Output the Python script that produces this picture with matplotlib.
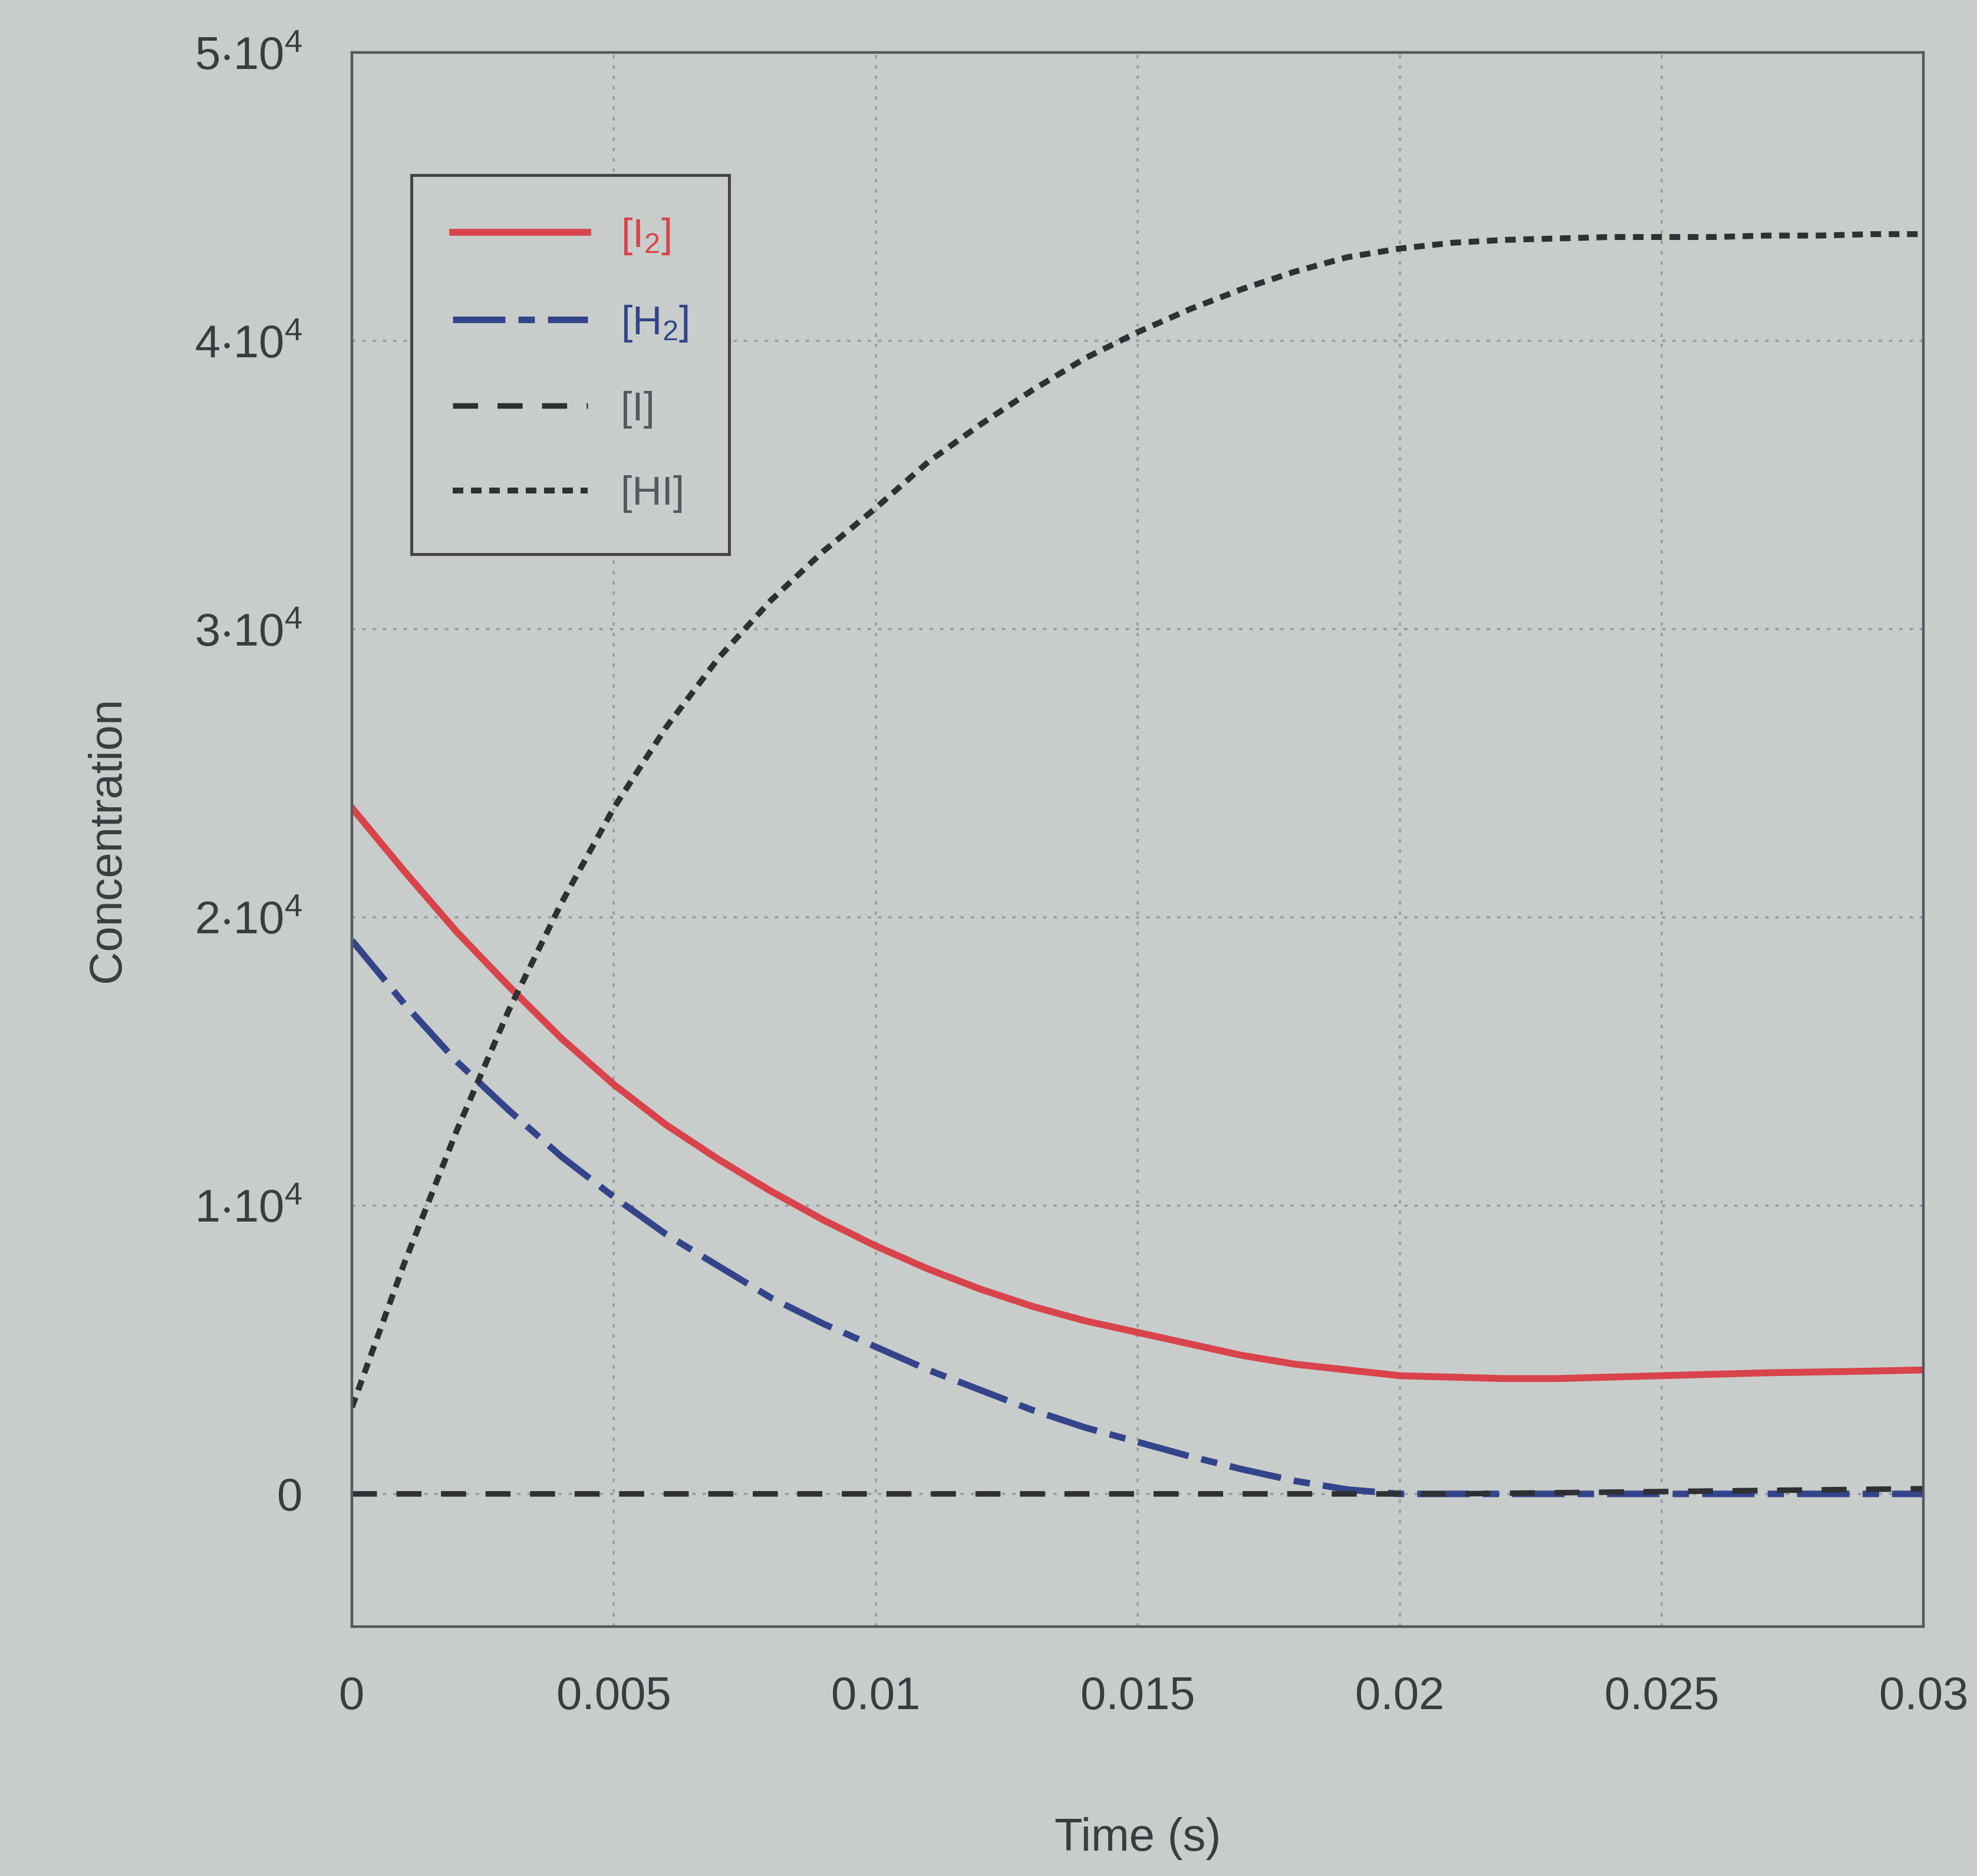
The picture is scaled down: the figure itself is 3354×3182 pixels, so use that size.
import numpy as np
import matplotlib.pyplot as plt
from matplotlib.ticker import FuncFormatter

plt.rcParams['font.family'] = ['Liberation Sans', 'DejaVu Sans']
plt.rcParams['mathtext.default'] = 'regular'

# time (s)
t = [0, 0.001, 0.002, 0.003, 0.004, 0.005, 0.006, 0.007, 0.008, 0.009,
     0.010, 0.011, 0.012, 0.013, 0.014, 0.015, 0.016, 0.017, 0.018, 0.019,
     0.020, 0.021, 0.022, 0.023, 0.024, 0.025, 0.026, 0.027, 0.028, 0.029, 0.030]

# concentrations in units of 1e4
i2 = [2.38, 2.16, 1.95, 1.76, 1.58, 1.42, 1.28, 1.16, 1.05, 0.95,
      0.86, 0.78, 0.71, 0.65, 0.60, 0.56, 0.52, 0.48, 0.45, 0.43,
      0.41, 0.405, 0.40, 0.40, 0.405, 0.41, 0.415, 0.42, 0.423, 0.426, 0.43]
h2 = [1.92, 1.70, 1.50, 1.33, 1.17, 1.03, 0.90, 0.79, 0.68, 0.59,
      0.51, 0.43, 0.36, 0.29, 0.23, 0.18, 0.13, 0.085, 0.045, 0.015,
      0.0, 0.0, 0.0, 0.0, 0.0, 0.0, 0.0, 0.0, 0.0, 0.0, 0.0]
i_at = [0.0, 0.0, 0.0, 0.0, 0.0, 0.0, 0.0, 0.0, 0.0, 0.0,
        0.0, 0.0, 0.0, 0.0, 0.0, 0.0, 0.0, 0.0, 0.0, 0.0,
        0.0, 0.0, 0.002, 0.004, 0.006, 0.008, 0.010, 0.012, 0.014, 0.016, 0.018]
hi = [0.30, 0.80, 1.26, 1.68, 2.05, 2.38, 2.66, 2.90, 3.10, 3.27,
      3.42, 3.58, 3.71, 3.83, 3.94, 4.03, 4.11, 4.18, 4.24, 4.29,
      4.32, 4.34, 4.35, 4.355, 4.36, 4.36, 4.36, 4.365, 4.365, 4.37, 4.37]

labels = ['[I$_2$]', '[H$_2$]', '[I]', '[HI]']
colors = ['#d9434b', '#34448a', '#2e3033', '#2e3033']

bg = '#c8cdcc'
fig = plt.figure(figsize=(16.77, 15.91), dpi=200, facecolor=bg)
ax = fig.add_axes([0.178, 0.133, 0.795, 0.839], facecolor=bg)

s = 1e4
ax.plot(t, np.array(i2) * s, color=colors[0], lw=4.2, label=labels[0])
ax.plot(t, np.array(h2) * s, color=colors[1], lw=4.0, dashes=(8, 2, 2.5, 2), label=labels[1])
ax.plot(t, np.array(i_at) * s, color=colors[2], lw=3.4, dashes=(4.5, 3.5), label=labels[2])
ax.plot(t, np.array(hi) * s, color=colors[3], lw=3.6, dashes=(1.8, 1.3), label=labels[3])

ax.set_xlim(0, 0.03)
ax.set_ylim(-4600, 50000)
ax.set_xticks([0, 0.005, 0.01, 0.015, 0.02, 0.025, 0.03])
ax.set_xticklabels(['0', '0.005', '0.01', '0.015', '0.02', '0.025', '0.03'])
ax.set_yticks([0, 1e4, 2e4, 3e4, 4e4, 5e4])
ax.yaxis.set_major_formatter(FuncFormatter(
    lambda v, p: '0' if v == 0 else '%d$\\cdot$10$^4$' % round(v / 1e4)))

ax.grid(True, color='#9a9fa3', linestyle=(0, (1.5, 3)), lw=1.4)
ax.tick_params(axis='both', labelsize=28, colors='#3a3c40', length=0, pad=30)
for sp in ax.spines.values():
    sp.set_color('#55585e')
    sp.set_linewidth(1.6)

ax.set_xlabel('Time (s)', fontsize=28, color='#3a3c40', labelpad=60)
ax.set_ylabel('Concentration', fontsize=28, color='#3a3c40', labelpad=40)

leg = ax.legend(loc='upper left', bbox_to_anchor=(0.025, 0.935), fontsize=25,
                handlelength=3.3, labelspacing=1.15, borderpad=1.0,
                fancybox=False, framealpha=1, facecolor=bg, edgecolor='#444')
leg.get_frame().set_linewidth(1.8)
for txt, c in zip(leg.get_texts(), ['#d9434b', '#34448a', '#55585e', '#55585e']):
    txt.set_color(c)

fig.savefig('out.png', dpi=200, facecolor=bg)
